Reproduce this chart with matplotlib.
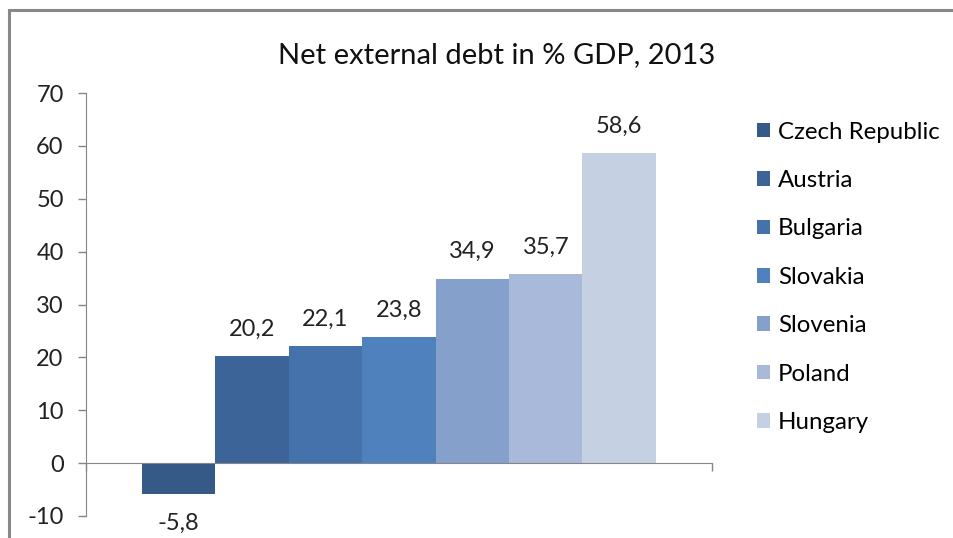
import matplotlib.pyplot as plt
from matplotlib.patches import Rectangle

plt.rcParams['font.family'] = ['Lato', 'DejaVu Sans']
plt.rcParams['axes.unicode_minus'] = False

countries = ['Czech Republic', 'Austria', 'Bulgaria', 'Slovakia', 'Slovenia', 'Poland', 'Hungary']
debt = [-5.8, 20.2, 22.1, 23.8, 34.9, 35.7, 58.6]
colors = ['#355a88', '#3d6499', '#4672ab', '#4f81bd', '#86a0cc', '#a8b9d9', '#c5d0e3']

fig = plt.figure(figsize=(9.54, 5.38), dpi=100)
ax = fig.add_axes([0.0901, 0.0409, 0.6562, 0.7862])

# chart frame (runs off the right and bottom edges)
fig.patches.append(Rectangle((0.0095, -0.05), 1.1, 1.0323, transform=fig.transFigure,
                             fill=False, edgecolor='#888888', linewidth=2.2))

for i in range(len(countries)):
    ax.bar(i, debt[i], width=1.0, color=colors[i], label=countries[i])
    lab = f'{debt[i]:.1f}'.replace('.', ',')
    if debt[i] < 0:
        ax.annotate(lab, (i, debt[i]), xytext=(0, -14), textcoords='offset points',
                    ha='center', va='top', fontsize=17, color='#222222')
    else:
        ax.annotate(lab, (i, debt[i]), xytext=(0, 12), textcoords='offset points',
                    ha='center', va='bottom', fontsize=17, color='#222222')

ax.set_xlim(-1.264, 7.264)
ax.set_ylim(-10, 70)
ax.set_yticks(range(-10, 71, 10))
ax.set_xticks([-1.264, 7.264])
ax.set_xticklabels([])

for s in ['top', 'right']:
    ax.spines[s].set_visible(False)
ax.spines['bottom'].set_position(('data', 0))
ax.spines['left'].set_color('#868686')
ax.spines['bottom'].set_color('#868686')
ax.tick_params(axis='both', colors='#868686', length=6, width=1, labelcolor='#222222')
ax.tick_params(axis='y', labelsize=17, pad=10)

fig.text(0.521, 0.897, 'Net external debt in % GDP, 2013', ha='center', va='center',
         fontsize=21, color='#111111')

ax.legend(loc='upper left', bbox_to_anchor=(0.793, 0.774), bbox_transform=fig.transFigure,
          frameon=False, fontsize=17.3, handlelength=0.55, handleheight=0.55,
          handletextpad=0.35, labelspacing=1.14, borderpad=0, borderaxespad=0)

fig.savefig('out.png', dpi=100)
